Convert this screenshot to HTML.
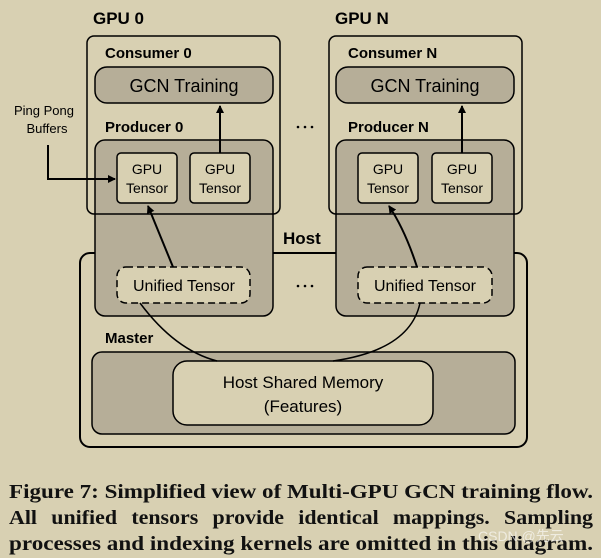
<!DOCTYPE html>
<html><head><meta charset="utf-8"><style>
html,body{margin:0;padding:0;background:#d8d0b2;}
svg{display:block;}
.s{font-family:"Liberation Sans",sans-serif;}
.b{font-weight:bold;}
</style></head><body>
<svg width="601" height="558" viewBox="0 0 601 558" xmlns="http://www.w3.org/2000/svg">
<defs>
<marker id="ah" markerWidth="8" markerHeight="8" refX="7" refY="4" orient="auto" markerUnits="userSpaceOnUse">
<path d="M0,0 L8,4 L0,8 z" fill="#000"/></marker>
</defs>
<rect width="601" height="558" fill="#d8d0b2"/>
<g class="s" fill="#000">
<rect x="80" y="253" width="447" height="194" rx="10" fill="none" stroke="#000" stroke-width="2"/>
<text x="283" y="244" class="s b" font-size="17">Host</text>
<text x="105" y="343" class="s b" font-size="15">Master</text>
<rect x="92" y="352" width="423" height="82" rx="10" fill="#b6ae98" stroke="#000" stroke-width="1.5"/>
<rect x="173" y="361" width="260" height="64" rx="14" fill="#d8d0b2" stroke="#000" stroke-width="1.5"/>
<text x="303" y="388" text-anchor="middle" font-size="17">Host Shared Memory</text>
<text x="303" y="412" text-anchor="middle" font-size="17">(Features)</text>

<rect x="95" y="140" width="178" height="176" rx="10" fill="#b6ae98" stroke="#000" stroke-width="1.5"/>
<rect x="336" y="140" width="178" height="176" rx="10" fill="#b6ae98" stroke="#000" stroke-width="1.5"/>

<rect x="87" y="36" width="193" height="178" rx="7" fill="none" stroke="#000" stroke-width="1.5"/>
<rect x="329" y="36" width="193" height="178" rx="7" fill="none" stroke="#000" stroke-width="1.5"/>
<text x="93" y="24" class="b" font-size="17">GPU 0</text>
<text x="335" y="24" class="b" font-size="17">GPU N</text>
<text x="105" y="58" class="b" font-size="15">Consumer 0</text>
<text x="348" y="58" class="b" font-size="15">Consumer N</text>
<rect x="95" y="67" width="178" height="36" rx="12" fill="#b6ae98" stroke="#000" stroke-width="1.5"/>
<rect x="336" y="67" width="178" height="36" rx="12" fill="#b6ae98" stroke="#000" stroke-width="1.5"/>
<text x="184" y="92" text-anchor="middle" font-size="18">GCN Training</text>
<text x="425" y="92" text-anchor="middle" font-size="18">GCN Training</text>
<text x="105" y="132" class="b" font-size="15">Producer 0</text>
<text x="348" y="132" class="b" font-size="15">Producer N</text>

<g stroke="#000" stroke-width="1.5" fill="#d8d0b2">
<rect x="117" y="153" width="60" height="50" rx="4"/>
<rect x="190" y="153" width="60" height="50" rx="4"/>
<rect x="358" y="153" width="60" height="50" rx="4"/>
<rect x="432" y="153" width="60" height="50" rx="4"/>
</g>
<g font-size="14" text-anchor="middle">
<text x="147" y="174">GPU</text><text x="147" y="193">Tensor</text>
<text x="220" y="174">GPU</text><text x="220" y="193">Tensor</text>
<text x="388" y="174">GPU</text><text x="388" y="193">Tensor</text>
<text x="462" y="174">GPU</text><text x="462" y="193">Tensor</text>
</g>
<g stroke="#000" stroke-width="1.5" fill="#d8d0b2" stroke-dasharray="7,4">
<rect x="117" y="267" width="133" height="36" rx="9"/>
<rect x="358" y="267" width="134" height="36" rx="9"/>
</g>
<text x="184" y="291" text-anchor="middle" font-size="16">Unified Tensor</text>
<text x="425" y="291" text-anchor="middle" font-size="16">Unified Tensor</text>

<g fill="#000">
<circle cx="298" cy="127" r="1.3"/><circle cx="305" cy="127" r="1.3"/><circle cx="312" cy="127" r="1.3"/>
<circle cx="298" cy="286" r="1.3"/><circle cx="305" cy="286" r="1.3"/><circle cx="312" cy="286" r="1.3"/>
</g>

<text x="44" y="115" text-anchor="middle" font-size="13">Ping Pong</text>
<text x="47" y="133" text-anchor="middle" font-size="13">Buffers</text>

<g stroke="#000" stroke-width="2" fill="none">
<polyline points="48,145 48,179 115,179" marker-end="url(#ah)"/>
<line x1="220" y1="153" x2="220" y2="106" marker-end="url(#ah)"/>
<line x1="462" y1="153" x2="462" y2="106" marker-end="url(#ah)"/>
<path d="M173,267 Q160,235 148,206" marker-end="url(#ah)"/>
<path d="M417,267 Q405,230 389,206" marker-end="url(#ah)"/>
<path d="M140,303 Q175,350 217,361" stroke-width="1.5"/>
<path d="M420,303 Q410,350 333,361" stroke-width="1.5"/>
</g>
</g>
<g font-family="'Liberation Serif',serif" font-weight="bold" font-size="20" fill="#111">
<text x="9" y="498" textLength="584" lengthAdjust="spacingAndGlyphs">Figure 7: Simplified view of Multi-GPU GCN training flow.</text>
<text x="9" y="524" textLength="584" lengthAdjust="spacingAndGlyphs" word-spacing="8">All unified tensors provide identical mappings. Sampling</text>
<text x="9" y="550" textLength="584" lengthAdjust="spacingAndGlyphs">processes and indexing kernels are omitted in this diagram.</text>
</g>
<text x="478" y="541" font-family="'Liberation Sans','Noto Sans CJK SC',sans-serif" font-size="14" fill="#fff" opacity="0.6">CSDN @先云</text>
</svg>
</body></html>
